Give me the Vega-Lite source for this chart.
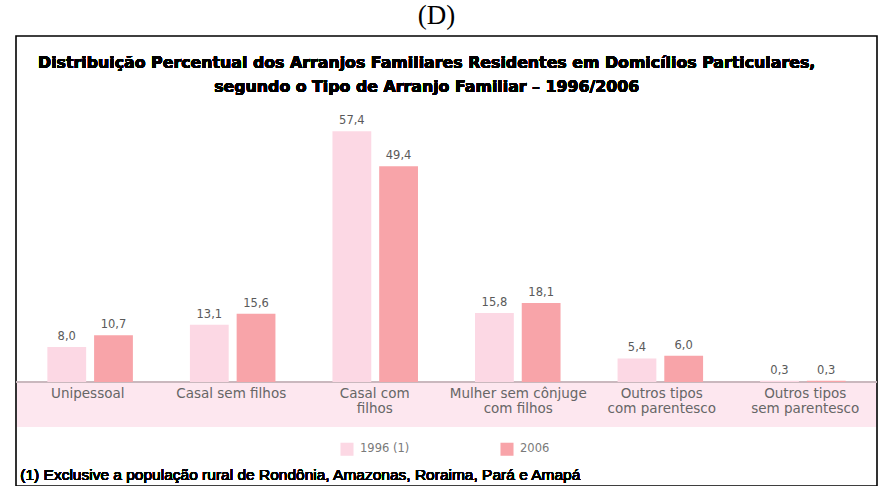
{
  "$schema": "https://vega.github.io/schema/vega-lite/v6.json",
  "width": 861,
  "height": 450,
  "autosize": {"type": "none"},
  "padding": {"left": 16, "top": 36, "right": 4, "bottom": 0},
  "background": "white",
  "title": {
    "text": "(D)",
    "font": "Liberation Serif",
    "fontSize": 27,
    "fontWeight": "normal",
    "color": "#000",
    "anchor": "middle",
    "baseline": "alphabetic",
    "offset": -15,
    "dx": -10
  },
  "config": {
    "view": {"stroke": "#000", "strokeWidth": 1.6},
    "locale": {"number": {"decimal": ",", "thousands": ".", "grouping": [3], "currency": ["R$", ""]}}
  },
  "data": {
    "values": [
      {"cat": "Unipessoal", "year": "1996 (1)", "value": 8.0},
      {"cat": "Unipessoal", "year": "2006", "value": 10.7},
      {"cat": "Casal sem filhos", "year": "1996 (1)", "value": 13.1},
      {"cat": "Casal sem filhos", "year": "2006", "value": 15.6},
      {"cat": "Casal com\nfilhos", "year": "1996 (1)", "value": 57.4},
      {"cat": "Casal com\nfilhos", "year": "2006", "value": 49.4},
      {"cat": "Mulher sem cônjuge\ncom filhos", "year": "1996 (1)", "value": 15.8},
      {"cat": "Mulher sem cônjuge\ncom filhos", "year": "2006", "value": 18.1},
      {"cat": "Outros tipos\ncom parentesco", "year": "1996 (1)", "value": 5.4},
      {"cat": "Outros tipos\ncom parentesco", "year": "2006", "value": 6.0},
      {"cat": "Outros tipos\nsem parentesco", "year": "1996 (1)", "value": 0.3},
      {"cat": "Outros tipos\nsem parentesco", "year": "2006", "value": 0.3}
    ]
  },
  "resolve": {"scale": {"x": "independent"}},
  "layer": [
    {
      "mark": {"type": "rect", "color": "#fde7ef"},
      "encoding": {
        "x": {"datum": 0.002, "type": "quantitative", "scale": {"domain": [0, 1], "nice": false, "zero": false}, "axis": null},
        "x2": {"datum": 0.998},
        "y": {"datum": 0, "type": "quantitative", "scale": {"domain": [-23.8, 79.2], "nice": false, "zero": false}, "axis": null},
        "y2": {"datum": -10.3}
      }
    },
    {
      "mark": {"type": "rule", "color": "#c9b8be", "strokeWidth": 1.2},
      "encoding": {
        "y": {"datum": 0, "type": "quantitative", "scale": {"domain": [-23.8, 79.2], "nice": false, "zero": false}, "axis": null}
      }
    },
    {
      "mark": {"type": "bar"},
      "encoding": {
        "x": {"field": "cat", "type": "nominal", "sort": null, "scale": {"paddingInner": 0.4, "paddingOuter": 0.22}, "axis": null},
        "xOffset": {"field": "year", "type": "nominal", "scale": {"paddingInner": 0.17, "paddingOuter": 0}},
        "y": {"field": "value", "type": "quantitative", "scale": {"domain": [-23.8, 79.2], "nice": false, "zero": false}, "axis": null},
        "y2": {"datum": 0},
        "color": {
          "field": "year", "type": "nominal",
          "scale": {"domain": ["1996 (1)", "2006"], "range": ["#fcd8e4", "#f8a4a9"]},
          "legend": {
            "title": null, "orient": "none", "legendX": 324, "legendY": 406,
            "direction": "horizontal", "symbolType": "square", "symbolSize": 170,
            "symbolStrokeWidth": 0, "labelFont": "DejaVu Sans", "labelFontSize": 11.5,
            "labelColor": "#7a7a7a", "columnPadding": 90, "labelOffset": 6
          }
        }
      }
    },
    {
      "mark": {"type": "text", "font": "DejaVu Sans", "fontSize": 11.5, "color": "#5a5a5a", "baseline": "bottom", "dy": -5},
      "encoding": {
        "x": {"field": "cat", "type": "nominal", "sort": null, "scale": {"paddingInner": 0.4, "paddingOuter": 0.22}, "axis": null},
        "xOffset": {"field": "year", "type": "nominal", "scale": {"paddingInner": 0.17, "paddingOuter": 0}},
        "y": {"field": "value", "type": "quantitative", "scale": {"domain": [-23.8, 79.2], "nice": false, "zero": false}, "axis": null},
        "text": {"field": "value", "type": "quantitative", "format": ".1f"}
      }
    },
    {
      "transform": [{"filter": "datum.year === '2006'"}],
      "mark": {"type": "text", "font": "DejaVu Sans", "fontSize": 13.5, "color": "#666666", "baseline": "top", "align": "center", "lineBreak": "\n", "lineHeight": 15},
      "encoding": {
        "x": {"field": "cat", "type": "nominal", "sort": null, "scale": {"paddingInner": 0.4, "paddingOuter": 0.22}, "axis": null},
        "y": {"datum": -1.1, "type": "quantitative", "scale": {"domain": [-23.8, 79.2], "nice": false, "zero": false}, "axis": null},
        "text": {"field": "cat", "type": "nominal"}
      }
    },
    {
      "mark": {"type": "text", "font": "DejaVu Sans", "fontSize": 15.8, "fontWeight": "bold", "color": "#000", "align": "center", "baseline": "middle", "lineBreak": "\n", "lineHeight": 24,
        "text": "Distribuição Percentual dos Arranjos Familiares Residentes em Domicílios Particulares,\nsegundo o Tipo de Arranjo Familiar – 1996/2006"},
      "encoding": {
        "x": {"datum": 0.477, "type": "quantitative", "scale": {"domain": [0, 1], "nice": false, "zero": false}, "axis": null},
        "y": {"datum": 73.0, "type": "quantitative", "scale": {"domain": [-23.8, 79.2], "nice": false, "zero": false}, "axis": null}
      }
    },
    {
      "mark": {"type": "text", "font": "Liberation Sans", "fontSize": 15.5, "color": "#000", "align": "left", "baseline": "middle",
        "text": "(1) Exclusive a população rural de Rondônia, Amazonas, Roraima, Pará e Amapá"},
      "encoding": {
        "x": {"datum": 0.005, "type": "quantitative", "scale": {"domain": [0, 1], "nice": false, "zero": false}, "axis": null},
        "y": {"datum": -21.3, "type": "quantitative", "scale": {"domain": [-23.8, 79.2], "nice": false, "zero": false}, "axis": null}
      }
    }
  ]
}
